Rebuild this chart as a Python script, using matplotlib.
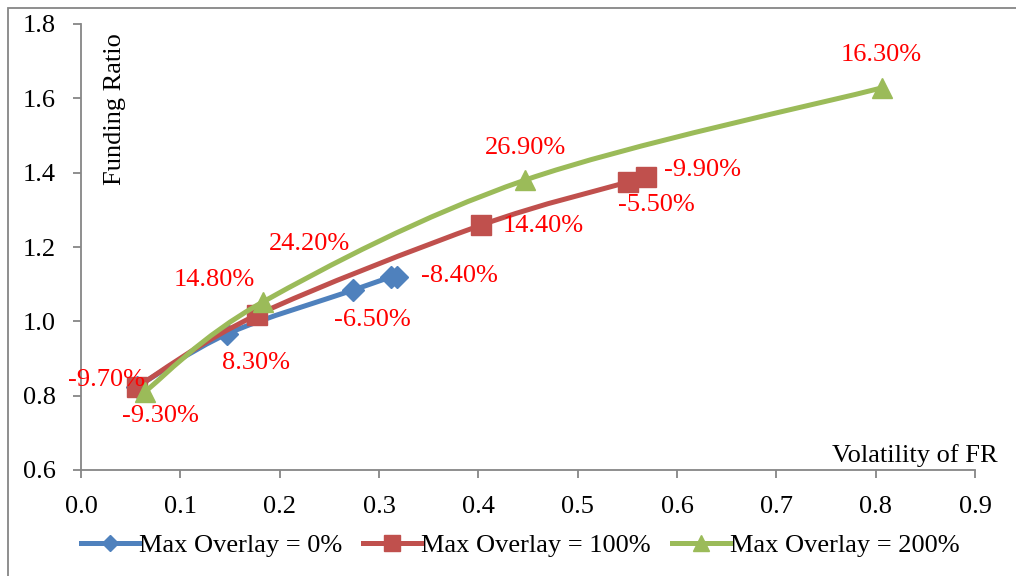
import numpy as np
import matplotlib
matplotlib.use("Agg")
import matplotlib.pyplot as plt
from matplotlib.path import Path
from matplotlib.patches import PathPatch, Rectangle
from matplotlib.lines import Line2D

# data
vol_0 = [0.056, 0.147, 0.274, 0.312, 0.318]
fr_0 = [0.823, 0.966, 1.084, 1.119, 1.120]
lab_0 = [None, "8.30%", "-6.50%", None, "-8.40%"]

vol_100 = [0.056, 0.177, 0.403, 0.551, 0.569]
fr_100 = [0.823, 1.017, 1.259, 1.375, 1.388]
lab_100 = ["-9.70%", "14.80%", "14.40%", "-5.50%", "-9.90%"]

vol_200 = [0.064, 0.183, 0.447, 0.806]
fr_200 = [0.810, 1.052, 1.380, 1.628]
lab_200 = ["-9.30%", "24.20%", "26.90%", "16.30%"]

names = ["Max Overlay = 0%", "Max Overlay = 100%", "Max Overlay = 200%"]

# label offsets in pixels (dx right, dy down), one per point
off_0 = [None, (29, 29), (19, 30), None, (63, -1)]
off_100 = [(-30, -7), (-43, -35), (62, 1), (28, 23), (56, -7)]
off_200 = [(16, 24), (47, -58), (0, -32), (0, -33)]

colors = ["#4F81BD", "#C0504D", "#9BBB59"]
markers = ["D", "s", "^"]
msizes = [11, 14, 15]
FONT = "Liberation Serif"
FS = 19

plt.rcParams["font.family"] = FONT


def smooth_path(xs, ys):
    # Excel-style smoothed line: cubic Bezier through the points
    p = np.column_stack([xs, ys])
    n = len(p)
    verts = [p[0]]
    codes = [Path.MOVETO]
    for i in range(n - 1):
        p0 = p[i - 1] if i > 0 else p[i]
        p3 = p[i + 2] if i + 2 < n else p[i + 1]
        c1 = p[i] + (p[i + 1] - p0) / 6.0
        c2 = p[i + 1] - (p3 - p[i]) / 6.0
        verts += [c1, c2, p[i + 1]]
        codes += [Path.CURVE4] * 3
    return Path(verts, codes)


fig = plt.figure(figsize=(10.16, 5.76), dpi=100)
ax = fig.add_axes([81 / 1016, 1 - 470 / 576, (975 - 81) / 1016, (470 - 24) / 576])

series = [(vol_0, fr_0, lab_0, off_0),
          (vol_100, fr_100, lab_100, off_100),
          (vol_200, fr_200, lab_200, off_200)]

handles = []
for k, (xs, ys, labs, offs) in enumerate(series):
    patch = PathPatch(smooth_path(xs, ys), facecolor="none", edgecolor=colors[k],
                      lw=3.6, zorder=2 + k, capstyle="round", joinstyle="round")
    ax.add_patch(patch)
    ax.plot(xs, ys, ls="none", marker=markers[k], ms=msizes[k], color=colors[k],
            mec=colors[k], zorder=2 + k)
    handles.append(Line2D([], [], color=colors[k], lw=3.6, marker=markers[k],
                          ms=msizes[k] - 3, mec=colors[k]))

for xs, ys, labs, offs in series:
    for x, y, t, o in zip(xs, ys, labs, offs):
        if t is None:
            continue
        ax.annotate(t, (x, y), xytext=(o[0] * 0.72, -o[1] * 0.72),
                    textcoords="offset points", ha="center", va="center",
                    color="#FF0000", fontsize=FS, zorder=10)

ax.set_xlim(0, 0.9)
ax.set_ylim(0.6, 1.8)
ax.set_xticks(np.arange(0, 0.91, 0.1))
ax.set_yticks(np.arange(0.6, 1.81, 0.2))
ax.xaxis.set_major_formatter(plt.FormatStrFormatter("%.1f"))
ax.yaxis.set_major_formatter(plt.FormatStrFormatter("%.1f"))
ax.tick_params(direction="out", length=6, width=1.3, color="#868686",
               labelsize=FS, labelcolor="black")
ax.tick_params(axis="y", pad=12)
ax.tick_params(axis="x", pad=13)
for s in ["top", "right"]:
    ax.spines[s].set_visible(False)
for s in ["left", "bottom"]:
    ax.spines[s].set_color("#868686")
    ax.spines[s].set_linewidth(1.3)

ax.text(0.038, 0.98, "Funding Ratio", rotation=90, ha="center", va="top",
        transform=ax.transAxes, fontsize=FS)
ax.text(1.025, 0.018, "Volatility of FR", ha="right", va="baseline",
        transform=ax.transAxes, fontsize=FS)

fig.legend(handles, names, loc="center", bbox_to_anchor=(520 / 1016, 1 - 545 / 576),
           ncol=3, frameon=False, fontsize=FS, handlelength=2.2, handletextpad=0.0,
           columnspacing=0.8, borderpad=0)

# chart frame
fig.patches.append(Rectangle((8 / 1016, -0.05), 1.1, 1 - 8 / 576 + 0.05,
                             transform=fig.transFigure, fill=False,
                             edgecolor="#868686", lw=1.3))

fig.savefig("out.png", dpi=100)
